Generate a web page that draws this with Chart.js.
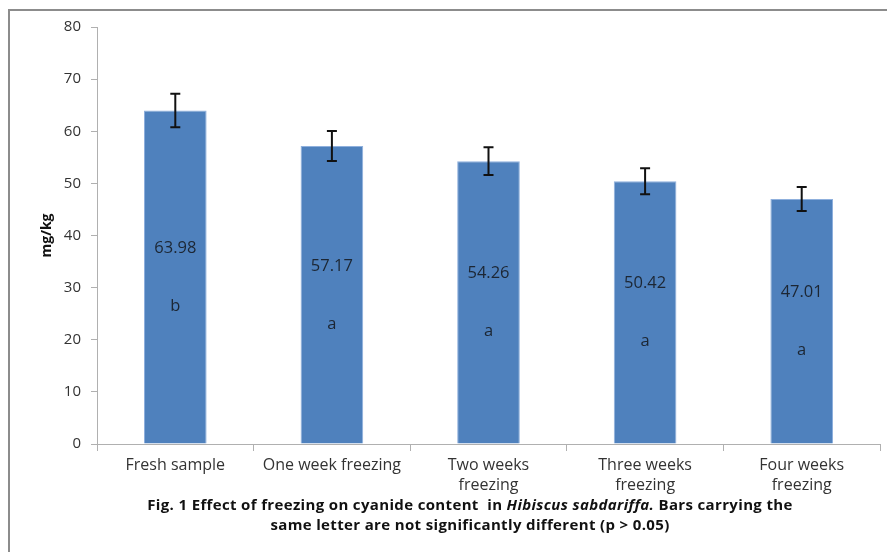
<!DOCTYPE html>
<html>
<head>
<meta charset="utf-8">
<script src="https://cdn.jsdelivr.net/npm/chart.js@4/dist/chart.umd.min.js"></script>
<style>
  body { margin: 0; background: #fff; }
  #wrap { position: relative; width: 887px; height: 552px; overflow: hidden; }
  #frame { position: absolute; left: 8px; top: 9px; width: 900px; height: 600px;
           border-left: 2px solid #8c8c8c; border-top: 2px solid #8c8c8c; }
  #caption { position: absolute; left: 0; width: 940px; top: 494px; text-align: center;
             font-family: "Open Sans", sans-serif; font-weight: bold; font-size: 15px;
             letter-spacing: 0.35px; line-height: 20px; color: #111; }
  canvas { position: absolute; left: 0; top: 0; }
</style>
</head>
<body>
<div id="wrap">
  <div id="frame"></div>
  <canvas id="freezeChart" width="887" height="552"></canvas>
  <div id="caption">Fig. 1 Effect of freezing on cyanide content&nbsp; in <i>Hibiscus sabdariffa.</i> Bars carrying the<br>same letter are not significantly different (p &gt; 0.05)</div>
</div>
<script>
// Data
const categories = ['Fresh sample', 'One week freezing', ['Two weeks', 'freezing'], ['Three weeks', 'freezing'], ['Four weeks', 'freezing']];
const values = [63.98, 57.17, 54.26, 50.42, 47.01];
const errors = [3.2, 2.9, 2.65, 2.5, 2.3];
const letters = ['b', 'a', 'a', 'a', 'a'];
const yTicks = [0, 10, 20, 30, 40, 50, 60, 70, 80];

// error bars + value / letter labels drawn inside each bar
const barExtras = {
    id: 'barExtras',
    afterDatasetsDraw(chart) {
        const c = chart.ctx;
        const y = chart.scales.y;
        const meta = chart.getDatasetMeta(0);
        c.save();
        meta.data.forEach((bar, i) => {
            const x = bar.x;
            const top = y.getPixelForValue(values[i] + errors[i]);
            const bot = y.getPixelForValue(values[i] - errors[i]);
            c.strokeStyle = '#111';
            c.lineWidth = 2;
            c.beginPath();
            c.moveTo(x, top); c.lineTo(x, bot);
            c.moveTo(x - 5, top); c.lineTo(x + 5, top);
            c.moveTo(x - 5, bot); c.lineTo(x + 5, bot);
            c.stroke();

            const mid = y.getPixelForValue(values[i] / 2);
            c.fillStyle = '#1c2633';
            c.font = '16.5px "Open Sans"';
            c.textAlign = 'center';
            c.textBaseline = 'middle';
            c.fillText(values[i].toFixed(2), x, mid - 29);
            c.fillText(letters[i], x, mid + 29);
        });
        c.restore();
    }
};

const ctx = document.getElementById('freezeChart').getContext('2d');
new Chart(ctx, {
    type: 'bar',
    data: {
        labels: categories,
        datasets: [{
            label: 'Cyanide',
            data: values,
            backgroundColor: '#4f81bd',
            borderColor: '#8fb0dd',
            borderWidth: 1,
            categoryPercentage: 1,
            barPercentage: 0.4
        }]
    },
    options: {
        responsive: false,
        animation: false,
        layout: { padding: { top: 27, right: 7, left: 0, bottom: 0 } },
        plugins: { legend: { display: false }, tooltip: { enabled: false } },
        scales: {
            x: {
                offset: true,
                grid: { offset: true, drawOnChartArea: false, tickLength: 7, color: '#b0b0b0' },
                border: { color: '#b0b0b0' },
                ticks: { color: '#333', font: { family: 'Open Sans', size: 16, lineHeight: 1.22 }, maxRotation: 0, autoSkip: false, padding: 5 },
                afterFit(scale) { scale.height = 108; }
            },
            y: {
                min: 0,
                max: 80,
                afterBuildTicks(scale) { scale.ticks = yTicks.map(v => ({ value: v })); },
                grid: { drawOnChartArea: false, tickLength: 6, color: '#b0b0b0' },
                border: { color: '#b0b0b0' },
                ticks: { color: '#333', font: { family: 'Open Sans', size: 15 }, padding: 10 },
                title: { display: true, text: 'mg/kg', color: '#111', font: { family: 'Open Sans', size: 14, weight: 'bold' }, padding: { top: 39, bottom: 0 } },
                afterFit(scale) { scale.width = 97; }
            }
        }
    },
    plugins: [barExtras]
});
</script>
</body>
</html>
